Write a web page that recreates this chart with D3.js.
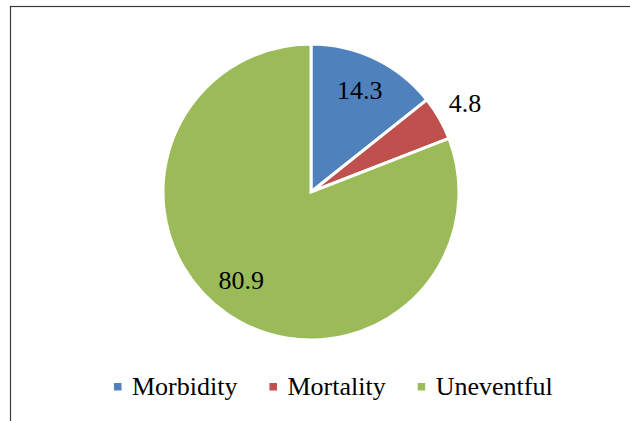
<!DOCTYPE html>
<html>
<head>
<meta charset="utf-8">
<script src="https://cdn.jsdelivr.net/npm/d3@7"></script>
</head>
<body style="margin:0; background:#fff">
<div id="chart"></div>
<script>
// data (percent)
const categories = ["Morbidity", "Mortality", "Uneventful"];
const values = [14.3, 4.8, 80.9];
const colors = ["#4F81BD", "#C0504D", "#9BBB59"];

const width = 630, height = 421;
const radius = 148;
const cx = 311, cy = 192;
const fontStyle = "font: 26px 'Liberation Serif', 'Times New Roman', Tinos, serif; fill: #000";

const svg = d3.select("#chart")
  .append("svg")
    .attr("width", width)
    .attr("height", height);

// chart area border (runs past the right and bottom edge)
svg.append("rect")
  .attr("x", 10.5)
  .attr("y", 6.5)
  .attr("width", 700)
  .attr("height", 500)
  .style("fill", "none")
  .style("stroke", "#3a3a3a")
  .style("stroke-width", 1.2);

const rows = categories.map(function(c, i) { return {name: c, value: values[i], color: colors[i]}; });

const pie = d3.pie()
  .sort(null)
  .value(function(d) { return d.value; });

const arc = d3.arc()
  .innerRadius(0)
  .outerRadius(radius);

const arcs = pie(rows);

svg.append("g")
  .attr("transform", `translate(${cx},${cy})`)
  .selectAll("path")
  .data(arcs)
  .join("path")
    .attr("d", arc)
    .style("fill", function(d) { return d.data.color; })
    .style("stroke", "#fff")
    .style("stroke-width", 3);

// labels: big slices inside, small slices just outside
arcs.forEach(function(d) {
  const share = (d.endAngle - d.startAngle) / (2 * Math.PI);
  const r = share < 0.1 ? radius * 1.2 : radius * 0.76;
  const a = (d.startAngle + d.endAngle) / 2 + (share > 0.5 ? 0.07 : 0);
  svg.append("text")
    .attr("x", cx + r * Math.sin(a))
    .attr("y", cy - r * Math.cos(a) + 8.5)
    .attr("font-family", "Liberation Serif")
    .attr("font-size", 26)
    .attr("text-anchor", "middle")
    .attr("style", fontStyle)
    .text(d.data.value.toFixed(1));
});

// legend
let lx = 114;
rows.forEach(function(d) {
  svg.append("rect")
    .attr("x", lx)
    .attr("y", 383)
    .attr("width", 7.5)
    .attr("height", 7.5)
    .style("fill", d.color);
  const t = svg.append("text")
    .attr("x", lx + 18)
    .attr("y", 395)
    .attr("font-family", "Liberation Serif")
    .attr("font-size", 26)
    .attr("style", fontStyle)
    .text(d.name);
  lx += 18 + t.node().getComputedTextLength() + 32;
});
</script>
</body>
</html>
